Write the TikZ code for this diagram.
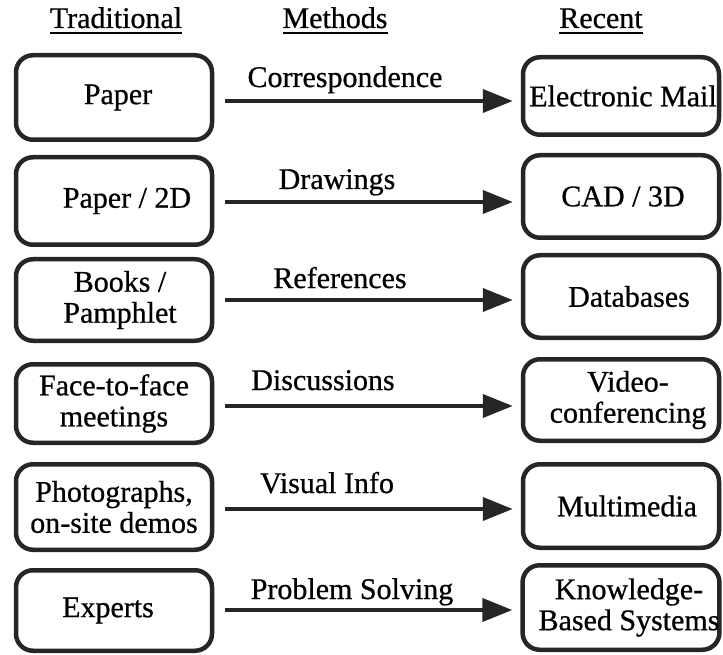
\documentclass[tikz,border=0pt]{standalone}
\usepackage{fontspec}
% regular Times-metric face, slightly thickened for the labels
\setmainfont{Liberation Serif}[BoldFont=Liberation Serif, BoldFeatures={FakeBold=0.7}]
\usetikzlibrary{arrows.meta}

% common type size for every label
\newcommand\lbl{\fontsize{30}{31}\selectfont\bfseries}
% heading with a heavy rule beneath it
\newcommand\headrule[1]{\vtop{\hbox{#1}\kern3.5pt\hrule height 2pt}}

\begin{document}
\begin{tikzpicture}[x=1pt,y=-1pt,
  box/.style={draw=black!85, line width=4.5pt, rounded corners=17pt,
    minimum width=196pt, inner sep=0pt, align=center, font=\lbl},
  head/.style={anchor=base, inner sep=0pt, font=\lbl},
  method/.style={anchor=base, inner sep=0pt, font=\lbl},
  arr/.style={draw=black!85, line width=4pt,
    -{Triangle[length=30pt,width=23pt]}, shorten <=11pt, shorten >=8pt}]

\useasboundingbox (0,0) rectangle (723,655);

% column headings
\node[head] (hT) at (116,28) {\headrule{Traditional}};
\node[head] (hM) at (335,28) {\headrule{Methods}};
\node[head] (hR) at (601,28) {\headrule{Recent}};

% traditional means
\node[box, minimum height=84.5pt] (L1) at (114,97.5) {Paper\hspace*{-8pt}};
\node[box, minimum height=87.5pt] (L2) at (114,201) {\hspace*{26pt}Paper / 2D};
\node[box, minimum height=81.5pt] (L3) at (114,300) {\hspace*{12pt}Books /\\\hspace*{12pt}Pamphlet};
\node[box, minimum height=78.5pt] (L4) at (114,403.5) {Face-to-face\\meetings};
\node[box, minimum height=85.5pt] (L5) at (114,507) {Photographs,\\on-site demos};
\node[box, minimum height=80.5pt] (L6) at (114,610.5) {Experts\hspace*{12pt}};

% recent means
\node[box, minimum height=77.5pt] (R1) at (621,96) {\hspace*{4pt}Electronic Mail};
\node[box, minimum height=82.5pt] (R2) at (621,196.5) {\hspace*{4pt}CAD / 3D};
\node[box, minimum height=82.5pt] (R3) at (621,296.5) {\hspace*{16pt}Databases};
\node[box, minimum height=81.5pt] (R4) at (621,400) {\hspace*{14pt}Video-\\\hspace*{14pt}conferencing};
\node[box, minimum height=83.5pt] (R5) at (621,506) {\hspace*{12pt}Multimedia};
\node[box, minimum height=84.5pt] (R6) at (621,607.5) {\hspace*{16pt}Knowledge-\\\hspace*{16pt}Based Systems};

% heights of the connecting arrows
\coordinate (a1) at (0,101);
\coordinate (a2) at (0,202);
\coordinate (a3) at (0,300);
\coordinate (a4) at (0,406);
\coordinate (a5) at (0,509);
\coordinate (a6) at (0,610);

\draw[arr] (L1.east |- a1) -- (R1.west |- a1);
\draw[arr] (L2.east |- a2) -- (R2.west |- a2);
\draw[arr] (L3.east |- a3) -- (R3.west |- a3);
\draw[arr] (L4.east |- a4) -- (R4.west |- a4);
\draw[arr] (L5.east |- a5) -- (R5.west |- a5);
\draw[arr] (L6.east |- a6) -- (R6.west |- a6);

% method labels above the arrows
\node[method] (m1) at (345,87) {Correspondence};
\node[method] (m2) at (337,189) {Drawings};
\node[method] (m3) at (340,288) {References};
\node[method] (m4) at (323,390) {Discussions};
\node[method] (m5) at (327,493) {Visual Info};
\node[method] (m6) at (352,599) {Problem Solving};
\end{tikzpicture}
\end{document}
